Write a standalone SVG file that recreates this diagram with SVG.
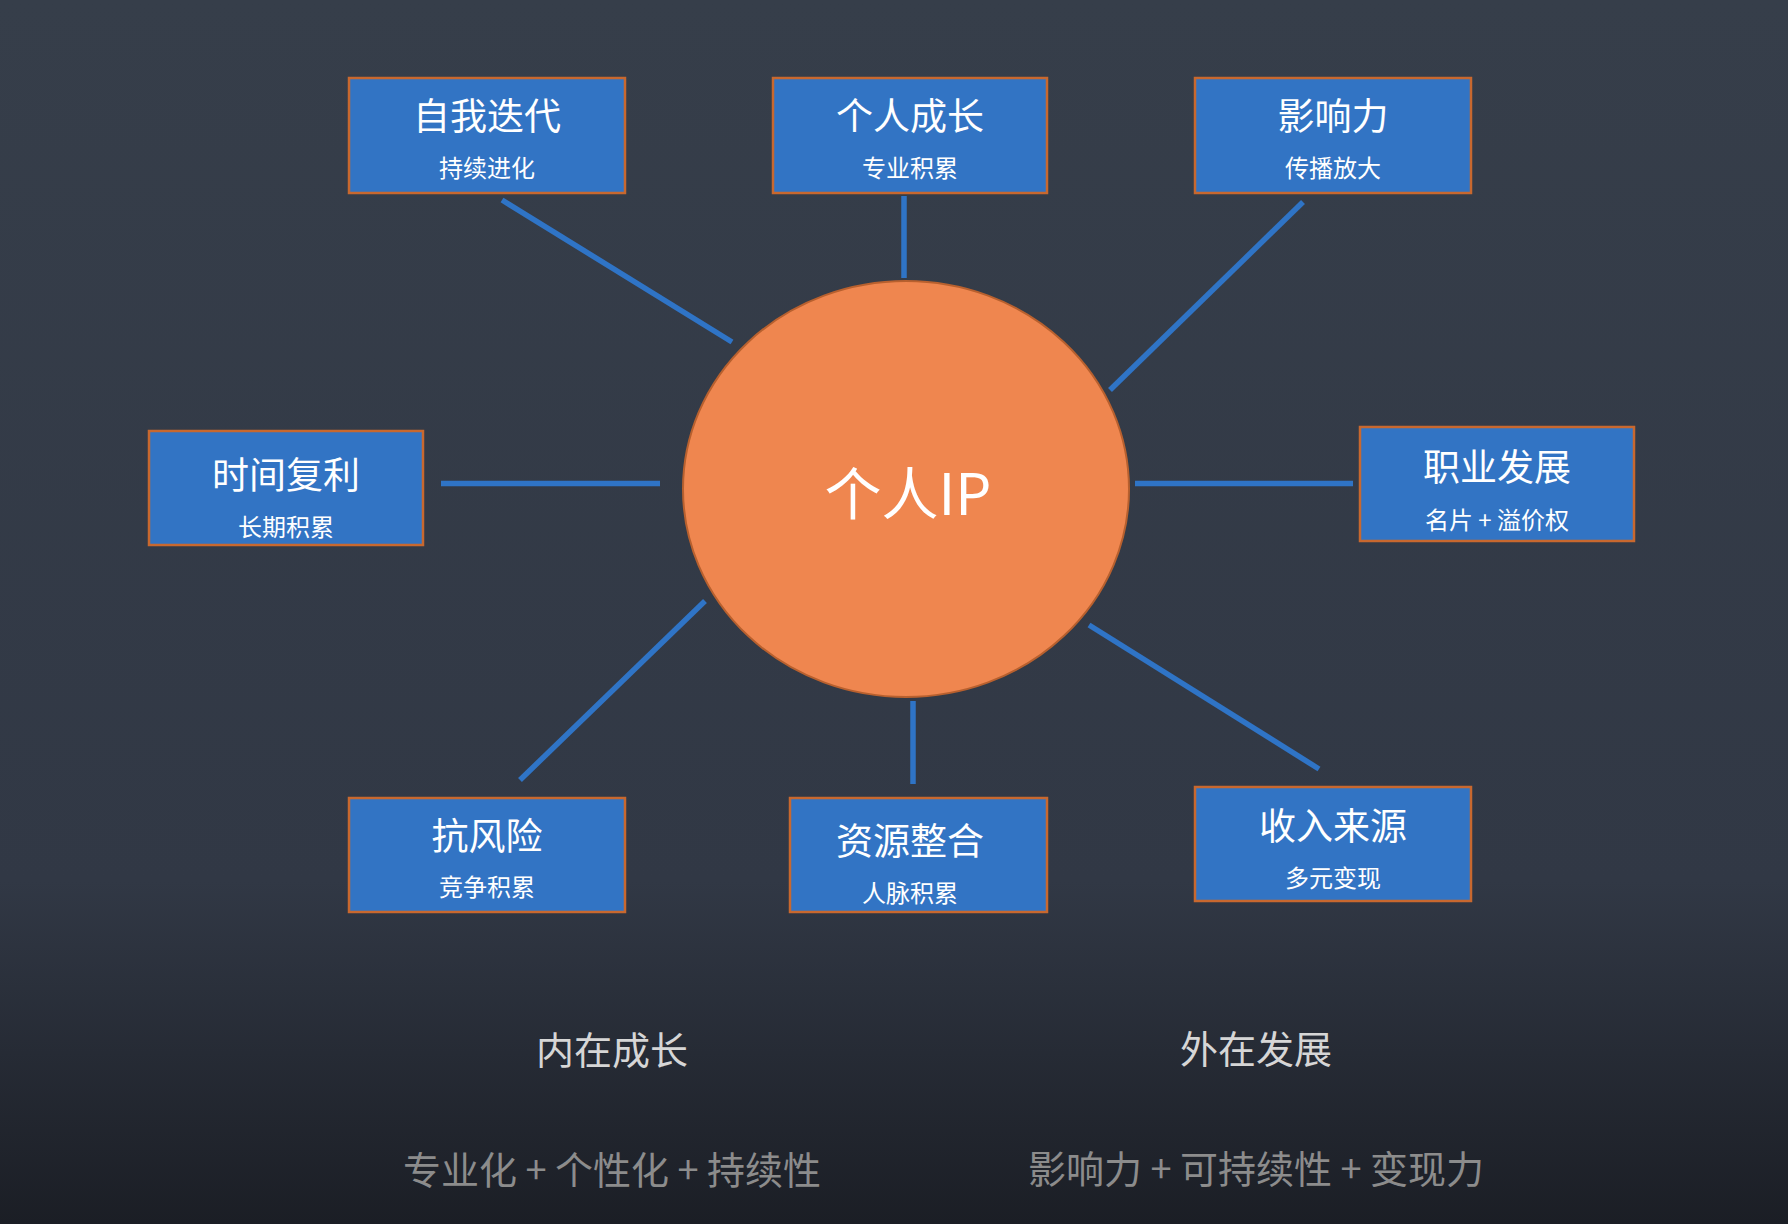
<svg xmlns="http://www.w3.org/2000/svg" width="1788" height="1224" viewBox="0 0 1788 1224">
  <defs>
    <linearGradient id="bg" x1="0" y1="0" x2="0" y2="1">
      <stop offset="0" stop-color="#363e4a"/>
      <stop offset="0.72" stop-color="#313845"/>
      <stop offset="1" stop-color="#1b1e25"/>
    </linearGradient>
    <style>
      .box { fill: #3274c4; stroke: #c8682f; stroke-width: 2.5; }
      .t { font-family: "Noto Sans CJK SC", "Noto Sans", sans-serif; fill: #ffffff; text-anchor: middle; dominant-baseline: central; }
      .title { font-size: 37px; }
      .sub { font-size: 24px; }
      .conn { stroke: #2f74c6; stroke-width: 5.5; fill: none; }
      .foot1 { font-family: "Noto Sans CJK SC", "Noto Sans", sans-serif; font-size: 38px; fill: #d6d6d6; text-anchor: middle; dominant-baseline: central; }
      .foot2 { font-family: "Noto Sans CJK SC", "Noto Sans", sans-serif; font-size: 38px; fill: #8c8c8c; text-anchor: middle; dominant-baseline: central; }
    </style>
  </defs>
  <rect x="0" y="0" width="1788" height="1224" fill="url(#bg)"/>

  <g id="connectors">
    <line class="conn" x1="502" y1="200" x2="732" y2="342"/>
    <line class="conn" x1="904" y1="196" x2="904" y2="278"/>
    <line class="conn" x1="1303" y1="202" x2="1110" y2="390"/>
    <line class="conn" x1="441" y1="483.5" x2="660" y2="483.5"/>
    <line class="conn" x1="1135" y1="483.5" x2="1353" y2="483.5"/>
    <line class="conn" x1="705" y1="601" x2="520" y2="780"/>
    <line class="conn" x1="913" y1="701" x2="913" y2="784"/>
    <line class="conn" x1="1089" y1="625" x2="1319" y2="769"/>
  </g>

  <g id="center">
    <ellipse cx="906" cy="489" rx="223" ry="208" fill="#ef864f" stroke="#b8602e" stroke-width="2"/>
    <text class="t" x="908" y="490" font-size="57">个人IP</text>
  </g>

  <g id="node-ziwodiedai">
    <rect class="box" x="349" y="78" width="276" height="115"/>
    <text class="t title" x="487" y="114">自我迭代</text>
    <text class="t sub" x="487" y="166">持续进化</text>
  </g>
  <g id="node-gerenchengzhang">
    <rect class="box" x="773" y="78" width="274" height="115"/>
    <text class="t title" x="910" y="114">个人成长</text>
    <text class="t sub" x="910" y="166">专业积累</text>
  </g>
  <g id="node-yingxiangli">
    <rect class="box" x="1195" y="78" width="276" height="115"/>
    <text class="t title" x="1333" y="114">影响力</text>
    <text class="t sub" x="1333" y="166">传播放大</text>
  </g>
  <g id="node-shijianfuli">
    <rect class="box" x="149" y="431" width="274" height="114"/>
    <text class="t title" x="286" y="473">时间复利</text>
    <text class="t sub" x="286" y="525">长期积累</text>
  </g>
  <g id="node-zhiyefazhan">
    <rect class="box" x="1360" y="427" width="274" height="114"/>
    <text class="t title" x="1497" y="465">职业发展</text>
    <text class="t sub" x="1497" y="518">名片 + 溢价权</text>
  </g>
  <g id="node-kangfengxian">
    <rect class="box" x="349" y="798" width="276" height="114"/>
    <text class="t title" x="487" y="834">抗风险</text>
    <text class="t sub" x="487" y="885">竞争积累</text>
  </g>
  <g id="node-ziyuanzhenghe">
    <rect class="box" x="790" y="798" width="257" height="114"/>
    <text class="t title" x="910" y="839">资源整合</text>
    <text class="t sub" x="910" y="891">人脉积累</text>
  </g>
  <g id="node-shourulaiyuan">
    <rect class="box" x="1195" y="787" width="276" height="114"/>
    <text class="t title" x="1333" y="824">收入来源</text>
    <text class="t sub" x="1333" y="876">多元变现</text>
  </g>

  <g id="footer">
    <text class="foot1" x="612" y="1047">内在成长</text>
    <text class="foot1" x="1256" y="1046">外在发展</text>
    <text class="foot2" x="612" y="1167">专业化 + 个性化 + 持续性</text>
    <text class="foot2" x="1256" y="1166">影响力 + 可持续性 + 变现力</text>
  </g>
</svg>
